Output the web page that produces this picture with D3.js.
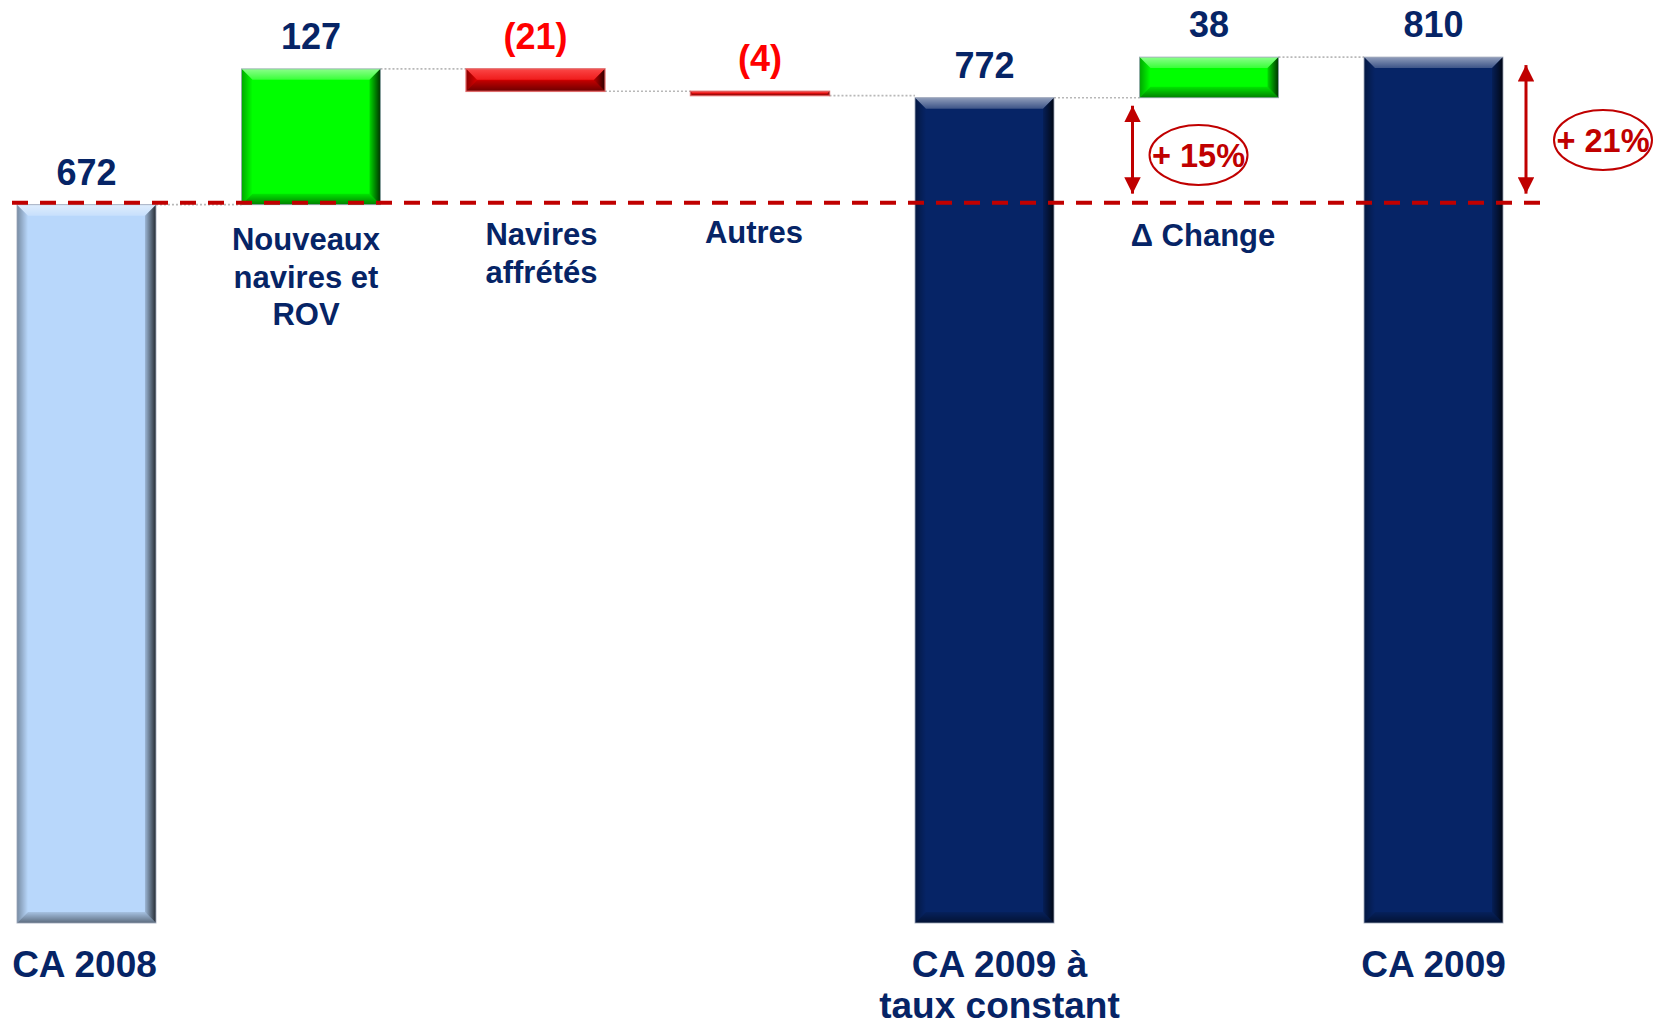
<!DOCTYPE html>
<html>
<head>
<meta charset="utf-8">
<script src="https://cdn.jsdelivr.net/npm/d3@7"></script>
<style>
  html, body { margin: 0; padding: 0; background: #fff; }
  svg { display: block; font-family: "Liberation Sans", Arial, sans-serif; font-weight: bold; }
</style>
</head>
<body>
<svg id="chart" width="1658" height="1026"></svg>
<script>
// Revenue bridge 2008 → 2009 (M€)
const categories = ["CA 2008", "Nouveaux navires et ROV", "Navires affrétés", "Autres",
                    "CA 2009 à taux constant", "Δ Change", "CA 2009"];
const labelLines = [["CA 2008"], ["Nouveaux", "navires et", "ROV"], ["Navires", "affrétés"], ["Autres"],
                    ["CA 2009 à", "taux constant"], ["Δ Change"], ["CA 2009"]];
const values = [672, 127, -21, -4, 772, 38, 810];
const kinds = ["total", "delta", "delta", "delta", "total", "delta", "total"];
const valueLabels = ["672", "127", "(21)", "(4)", "772", "38", "810"];
const baseValue = 672;
const growthIndex = [4, 6];
const growthLabels = ["+ 15%", "+ 21%"];

const NAVY = "#062466";
const DARK_RED = "#C00000";

const svg = d3.select("#chart");
const defs = svg.append("defs");

// bevel overlays
function grad(id, x2, y2, stops) {
  const g = defs.append("linearGradient").attr("id", id)
    .attr("x1", 0).attr("y1", 0).attr("x2", x2).attr("y2", y2);
  stops.forEach(s => g.append("stop").attr("offset", s[0]).attr("stop-color", s[1]).attr("stop-opacity", s[2]));
}
grad("bevTop", 0, 1, [[0, "#fff", 0.55], [1, "#fff", 0.22]]);
grad("bevLeft", 1, 0, [[0, "#000", 0.35], [1, "#000", 0.0]]);
grad("bevRight", 1, 0, [[0, "#000", 0.15], [1, "#000", 0.8]]);
grad("bevBottom", 0, 1, [[0, "#000", 0.1], [1, "#000", 0.5]]);
grad("redTop", 0, 1, [[0, "#ff5050", 0.9], [1, "#ff3030", 0.6]]);

defs.append("marker").attr("id", "arrow")
  .attr("viewBox", "0 0 10 10").attr("refX", 10).attr("refY", 5)
  .attr("markerWidth", 5.5).attr("markerHeight", 5.5).attr("markerUnits", "strokeWidth")
  .attr("orient", "auto-start-reverse")
  .append("path").attr("d", "M0,0 L10,5 L0,10 Z").attr("fill", DARK_RED);

// cumulative positions
let cum = 0;
const bars = values.map((v, i) => {
  let start, end;
  if (kinds[i] === "total") { start = 0; end = v; cum = v; }
  else { start = cum; end = cum + v; cum = end; }
  let color;
  if (kinds[i] === "total") color = i === 0 ? "#B8D7FB" : NAVY;
  else color = v >= 0 ? "#00FF00" : "#D80000";
  return { i, v, start, end, color, kind: kinds[i] };
});

const x = d3.scaleBand().domain(d3.range(categories.length))
  .range([17, 1503]).paddingInner(0.381).paddingOuter(0);
const y = d3.scaleLinear().domain([0, 810]).range([923, 923 - 1.069 * 810]);
const bw = x.bandwidth();

// dotted connectors between consecutive bars
const conn = svg.append("g");
bars.slice(0, -1).forEach((b, k) => {
  const yy = y(b.end);
  conn.append("line")
    .attr("x1", x(k) + bw).attr("x2", x(k + 1))
    .attr("y1", yy).attr("y2", yy)
    .attr("stroke", "#b8b8b8").attr("stroke-width", 1.6)
    .attr("stroke-dasharray", "2,2");
});

// bars with bevelled edges
const barG = svg.append("g");
bars.forEach(b => {
  const x0 = x(b.i), x1 = x0 + bw;
  let y0 = y(Math.max(b.start, b.end)), y1 = y(Math.min(b.start, b.end));
  const h = y1 - y0;
  const e = Math.min(11, h / 2, bw / 2);
  const neg = b.v < 0;
  const g = barG.append("g");
  g.append("rect").attr("x", x0).attr("y", y0).attr("width", bw).attr("height", h)
    .attr("fill", b.color);
  const poly = (pts, fill) => g.append("polygon")
    .attr("points", pts.map(p => p.join(",")).join(" ")).attr("fill", fill);
  poly([[x0, y0], [x1, y0], [x1 - e, y0 + e], [x0 + e, y0 + e]], neg ? "url(#redTop)" : "url(#bevTop)");
  poly([[x0, y0], [x0 + e, y0 + e], [x0 + e, y1 - e], [x0, y1]], "url(#bevLeft)");
  poly([[x1, y0], [x1, y1], [x1 - e, y1 - e], [x1 - e, y0 + e]], "url(#bevRight)");
  poly([[x0, y1], [x0 + e, y1 - e], [x1 - e, y1 - e], [x1, y1]], "url(#bevBottom)");
  g.append("rect").attr("x", x0).attr("y", y0).attr("width", bw).attr("height", h)
    .attr("fill", "none").attr("stroke", neg ? "#e06060" : "#9aa3b5")
    .attr("stroke-opacity", 0.8).attr("stroke-width", neg ? 1.5 : 1);
});

// reference level of the starting revenue
const refY = y(baseValue) - 2;
svg.append("line")
  .attr("x1", 12).attr("x2", 1541).attr("y1", refY).attr("y2", refY)
  .attr("stroke", DARK_RED).attr("stroke-width", 4).attr("stroke-dasharray", "16,12");

// value labels
svg.append("g").selectAll("text").data(bars).join("text")
  .attr("x", d => x(d.i) + bw / 2)
  .attr("y", d => y(Math.max(d.start, d.end)) - 20)
  .attr("text-anchor", "middle")
  .attr("font-size", 36)
  .attr("fill", d => d.v < 0 ? "#FF0000" : NAVY)
  .text(d => valueLabels[d.i]);

// category labels: totals below the bars, movements under the reference line
const labelShiftX = [-2, -5, 6, -6, 15, -6, 0];
const labelShiftY = [0, 4, -1, -3, 0, 0, 0];
const catG = svg.append("g").attr("fill", NAVY);
bars.forEach(b => {
  const lines = labelLines[b.i];
  const isTotal = b.kind === "total";
  const cx = x(b.i) + bw / 2 + labelShiftX[b.i];
  const t = catG.append("text")
    .attr("x", cx)
    .attr("y", (isTotal ? 977 : 246) + labelShiftY[b.i])
    .attr("text-anchor", "middle")
    .attr("font-size", isTotal ? 37 : 31);
  lines.forEach((l, k) => t.append("tspan")
    .attr("x", cx)
    .attr("dy", k === 0 ? 0 : (isTotal ? 41 : 37.5))
    .text(l));
});

// growth annotations against the starting revenue
const annG = svg.append("g");
growthIndex.forEach((idx, k) => {
  const target = values[idx];
  const isLast = idx === categories.length - 1;
  const ax = isLast ? x(idx) + bw + 23 : x(idx + 1) - 7;
  annG.append("line")
    .attr("x1", ax).attr("x2", ax)
    .attr("y1", y(baseValue) - 11).attr("y2", y(target) + 8)
    .attr("stroke", DARK_RED).attr("stroke-width", 3)
    .attr("marker-start", "url(#arrow)").attr("marker-end", "url(#arrow)");
  const cx = isLast ? ax + 77 : ax + 66;
  const cy = isLast ? 140 : 155;
  annG.append("ellipse").attr("cx", cx).attr("cy", cy).attr("rx", 49).attr("ry", 30)
    .attr("fill", "none").attr("stroke", DARK_RED).attr("stroke-width", 2);
  annG.append("text").attr("x", cx).attr("y", cy + 12)
    .attr("text-anchor", "middle").attr("font-size", 32.5).attr("fill", DARK_RED)
    .text(growthLabels[k]);
});
</script>
</body>
</html>
